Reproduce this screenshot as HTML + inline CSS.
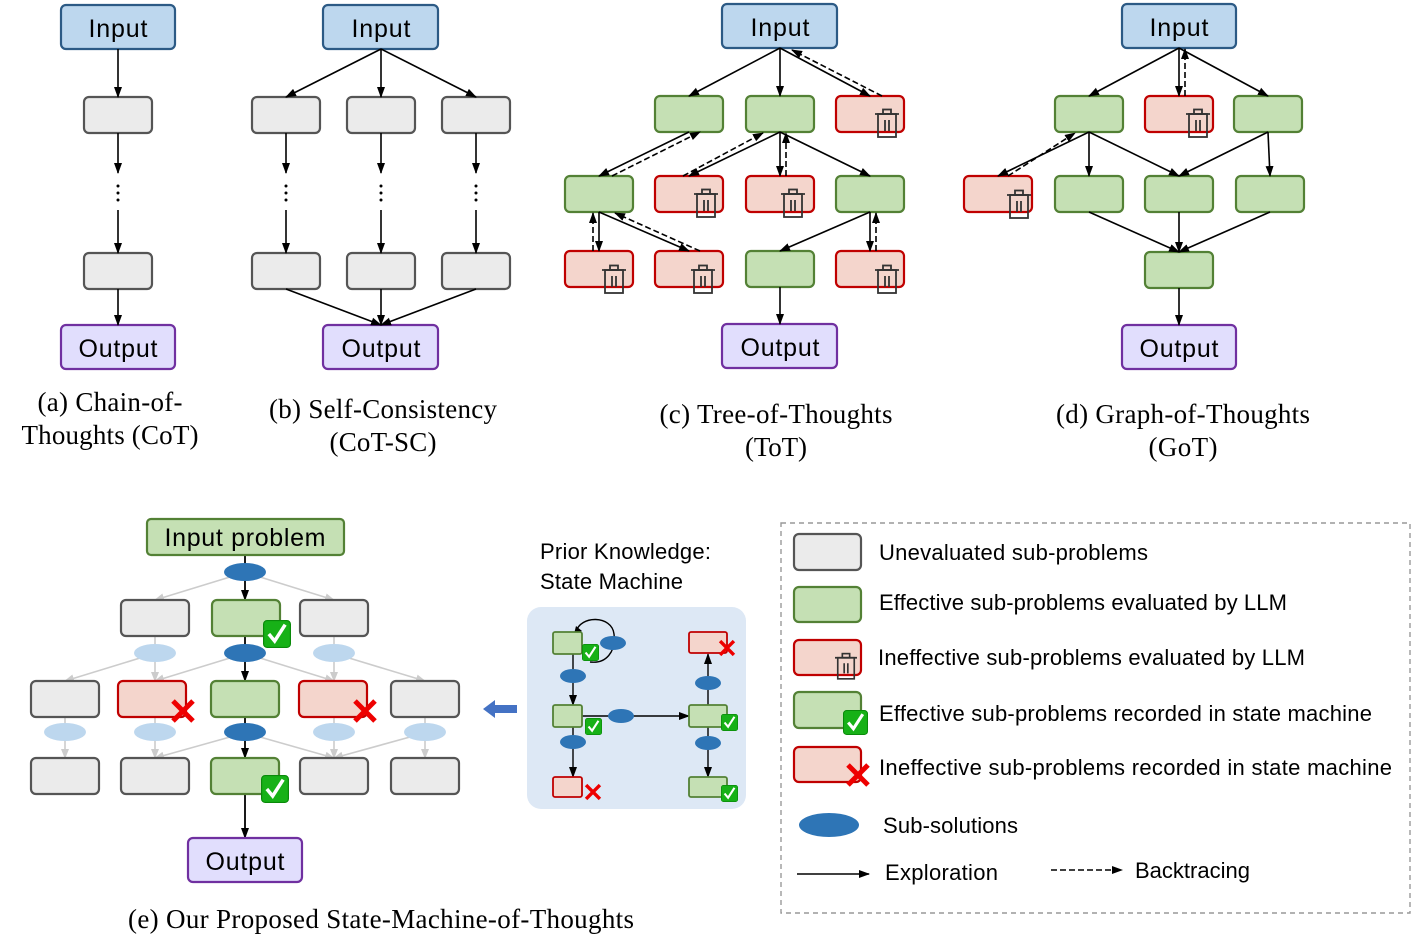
<!DOCTYPE html>
<html><head><meta charset="utf-8"><style>
html,body{margin:0;padding:0;background:#fff;}
svg{display:block;}
.sans{font-family:"Liberation Sans","DejaVu Sans",sans-serif;}
.serif{font-family:"Liberation Serif",serif;}
</style></head><body>
<svg width="1412" height="952" viewBox="0 0 1412 952" xmlns="http://www.w3.org/2000/svg">
<defs>
<marker id="ah" markerWidth="11" markerHeight="10" refX="10" refY="5" orient="auto" markerUnits="userSpaceOnUse"><path d="M0,1 L11,5 L0,9 z" fill="#000"/></marker>
<marker id="ag" markerWidth="10" markerHeight="10" refX="9" refY="5" orient="auto" markerUnits="userSpaceOnUse"><path d="M0,1 L10,5 L0,9 z" fill="#ccc"/></marker>
<symbol id="trash" viewBox="0 0 24 30" width="24" height="30"><g fill="none" stroke="#333" stroke-width="1.8"><path d="M0,6 H24"/><rect x="8" y="1.5" width="8" height="4.5"/><rect x="3" y="6" width="18" height="23"/><path d="M10,12 V23 M14,12 V23"/></g></symbol>
<symbol id="chk" viewBox="0 0 24 24" width="24" height="24"><rect x="0.5" y="0.5" width="23" height="23" rx="3" fill="#17b117" stroke="#0a8a0a"/><path d="M5,12 L10,18 L19,4" fill="none" stroke="#fff" stroke-width="3"/></symbol>
<symbol id="xx" viewBox="0 0 26 26" width="26" height="26"><path d="M3,3 L23,23 M23,3 L3,23" stroke="#e00" stroke-width="5"/></symbol>
</defs>
<g stroke-width="2.2">
<rect x="61" y="5" width="114" height="44" rx="5" fill="#bdd7ee" stroke="#2c5a85"/>
<rect x="84" y="97" width="68" height="36" rx="5" fill="#ebebeb" stroke="#555"/>
<rect x="84" y="253" width="68" height="36" rx="5" fill="#ebebeb" stroke="#555"/>
<rect x="61" y="325" width="114" height="44" rx="5" fill="#e1defd" stroke="#7030a0"/>
<rect x="323" y="5" width="115" height="44" rx="5" fill="#bdd7ee" stroke="#2c5a85"/>
<rect x="252" y="97" width="68" height="36" rx="5" fill="#ebebeb" stroke="#555"/>
<rect x="347" y="97" width="68" height="36" rx="5" fill="#ebebeb" stroke="#555"/>
<rect x="442" y="97" width="68" height="36" rx="5" fill="#ebebeb" stroke="#555"/>
<rect x="252" y="253" width="68" height="36" rx="5" fill="#ebebeb" stroke="#555"/>
<rect x="347" y="253" width="68" height="36" rx="5" fill="#ebebeb" stroke="#555"/>
<rect x="442" y="253" width="68" height="36" rx="5" fill="#ebebeb" stroke="#555"/>
<rect x="323" y="325" width="115" height="44" rx="5" fill="#e1defd" stroke="#7030a0"/>
<rect x="722" y="4" width="115" height="44" rx="5" fill="#bdd7ee" stroke="#2c5a85"/>
<rect x="655" y="96" width="68" height="36" rx="5" fill="#c5e0b4" stroke="#538135"/>
<rect x="746" y="96" width="68" height="36" rx="5" fill="#c5e0b4" stroke="#538135"/>
<rect x="836" y="96" width="68" height="36" rx="5" fill="#f4d5cc" stroke="#c00000"/>
<rect x="565" y="176" width="68" height="36" rx="5" fill="#c5e0b4" stroke="#538135"/>
<rect x="655" y="176" width="68" height="36" rx="5" fill="#f4d5cc" stroke="#c00000"/>
<rect x="746" y="176" width="68" height="36" rx="5" fill="#f4d5cc" stroke="#c00000"/>
<rect x="836" y="176" width="68" height="36" rx="5" fill="#c5e0b4" stroke="#538135"/>
<rect x="565" y="251" width="68" height="36" rx="5" fill="#f4d5cc" stroke="#c00000"/>
<rect x="655" y="251" width="68" height="36" rx="5" fill="#f4d5cc" stroke="#c00000"/>
<rect x="746" y="251" width="68" height="36" rx="5" fill="#c5e0b4" stroke="#538135"/>
<rect x="836" y="251" width="68" height="36" rx="5" fill="#f4d5cc" stroke="#c00000"/>
<rect x="722" y="324" width="115" height="44" rx="5" fill="#e1defd" stroke="#7030a0"/>
<rect x="1122" y="4" width="114" height="44" rx="5" fill="#bdd7ee" stroke="#2c5a85"/>
<rect x="1055" y="96" width="68" height="36" rx="5" fill="#c5e0b4" stroke="#538135"/>
<rect x="1145" y="96" width="68" height="36" rx="5" fill="#f4d5cc" stroke="#c00000"/>
<rect x="1234" y="96" width="68" height="36" rx="5" fill="#c5e0b4" stroke="#538135"/>
<rect x="964" y="176" width="68" height="36" rx="5" fill="#f4d5cc" stroke="#c00000"/>
<rect x="1055" y="176" width="68" height="36" rx="5" fill="#c5e0b4" stroke="#538135"/>
<rect x="1145" y="176" width="68" height="36" rx="5" fill="#c5e0b4" stroke="#538135"/>
<rect x="1236" y="176" width="68" height="36" rx="5" fill="#c5e0b4" stroke="#538135"/>
<rect x="1145" y="252" width="68" height="36" rx="5" fill="#c5e0b4" stroke="#538135"/>
<rect x="1122" y="325" width="114" height="44" rx="5" fill="#e1defd" stroke="#7030a0"/>
</g>
<use href="#trash" x="875" y="108"/>
<use href="#trash" x="694" y="188"/>
<use href="#trash" x="781" y="188"/>
<use href="#trash" x="602" y="264"/>
<use href="#trash" x="691" y="264"/>
<use href="#trash" x="875" y="264"/>
<use href="#trash" x="1186" y="108"/>
<use href="#trash" x="1007" y="189"/>
<g stroke="#000" stroke-width="1.6" fill="none" marker-end="url(#ah)">
<path d="M118,49 V97"/><path d="M118,133 V173"/><path d="M118,210 V253"/><path d="M118,289 V325"/>
<path d="M381,49 L286,97"/><path d="M381,49 V97"/><path d="M381,49 L476,97"/>
<path d="M286,133 V173"/><path d="M381,133 V173"/><path d="M476,133 V173"/>
<path d="M286,210 V253"/><path d="M381,210 V253"/><path d="M476,210 V253"/>
<path d="M286,289 L381,325"/><path d="M381,289 V325"/><path d="M476,289 L381,325"/>
<path d="M780,48 L689,96"/><path d="M780,48 V96"/><path d="M780,48 L870,96"/>
<path d="M689,132 L599,176"/><path d="M780,132 L689,176"/><path d="M780,132 V176"/><path d="M780,132 L870,176"/>
<path d="M599,212 V251"/><path d="M599,212 L689,251"/><path d="M870,212 L780,251"/><path d="M870,212 V251"/>
<path d="M780,287 V324"/>
<path d="M1179,48 L1089,96"/><path d="M1179,48 V96"/><path d="M1179,48 L1268,96"/>
<path d="M1089,132 L998,176"/><path d="M1089,132 V176"/><path d="M1089,132 L1179,176"/><path d="M1268,132 L1179,176"/><path d="M1268,132 L1270,176"/>
<path d="M1089,212 L1179,252"/><path d="M1179,212 V252"/><path d="M1270,212 L1179,252"/>
<path d="M1179,288 V325"/>
</g>
<g stroke="#000" stroke-width="1.6" fill="none" stroke-dasharray="6,3" marker-end="url(#ah)">
<path d="M882,96 L792,50"/>
<path d="M612,176 L700,132"/><path d="M683,176 L763,133"/><path d="M786,176 V133"/>
<path d="M593,251 V213"/><path d="M700,251 L615,213"/><path d="M876,251 V213"/>
<path d="M1185,96 V49"/><path d="M1008,176 L1075,133"/>
</g>
<g fill="#000">
<circle cx="118" cy="186" r="1.5"/><circle cx="118" cy="193" r="1.5"/><circle cx="118" cy="200" r="1.5"/>
<circle cx="286" cy="186" r="1.5"/><circle cx="286" cy="193" r="1.5"/><circle cx="286" cy="200" r="1.5"/>
<circle cx="381" cy="186" r="1.5"/><circle cx="381" cy="193" r="1.5"/><circle cx="381" cy="200" r="1.5"/>
<circle cx="476" cy="186" r="1.5"/><circle cx="476" cy="193" r="1.5"/><circle cx="476" cy="200" r="1.5"/>
</g>
<g class="sans" font-size="25" text-anchor="middle" fill="#000">
<text x="118" y="37" textLength="59">Input</text><text x="118" y="357" textLength="79">Output</text>
<text x="381" y="37" textLength="59">Input</text><text x="381" y="357" textLength="79">Output</text>
<text x="780" y="36" textLength="59">Input</text><text x="780" y="356" textLength="79">Output</text>
<text x="1179" y="36" textLength="59">Input</text><text x="1179" y="357" textLength="79">Output</text>
</g>
<g class="serif" font-size="27" text-anchor="middle" fill="#000">
<text x="110" y="411" textLength="145">(a) Chain-of-</text><text x="110" y="444" textLength="177">Thoughts (CoT)</text>
<text x="383" y="418" textLength="228">(b) Self-Consistency</text><text x="383" y="451" textLength="107">(CoT-SC)</text>
<text x="776" y="423" textLength="233">(c) Tree-of-Thoughts</text><text x="776" y="456" textLength="62">(ToT)</text>
<text x="1183" y="423" textLength="254">(d) Graph-of-Thoughts</text><text x="1183" y="456" textLength="69">(GoT)</text>
<text x="381" y="928" textLength="506">(e) Our Proposed State-Machine-of-Thoughts</text>
</g>
<g stroke="#ccc" stroke-width="1.6" fill="none" marker-end="url(#ag)">
<path d="M230,577 L155,600"/><path d="M260,577 L334,600"/>
<path d="M140,658 L65,681"/><path d="M155,662 V681"/><path d="M230,658 L155,681"/><path d="M260,658 L334,681"/><path d="M349,658 L425,681"/><path d="M334,662 V681"/>
<path d="M65,741 V758"/><path d="M155,741 V758"/><path d="M230,737 L155,758"/><path d="M260,737 L334,758"/><path d="M334,741 V758"/><path d="M425,741 V758"/><path d="M410,737 L334,758"/>
</g>
<g stroke="#ccc" stroke-width="1.6"><path d="M155,636 V644"/><path d="M334,636 V644"/><path d="M65,717 V723"/><path d="M155,717 V723"/><path d="M334,717 V723"/><path d="M425,717 V723"/></g>
<g stroke="#000" stroke-width="1.8" fill="none" marker-end="url(#ah)">
<path d="M245,555 V600"/><path d="M245,636 V681"/><path d="M245,717 V758"/><path d="M245,794 V838"/>
</g>
<g stroke-width="2.2">
<rect x="147" y="519" width="197" height="36" rx="4" fill="#c5e0b4" stroke="#538135"/>
<rect x="121" y="600" width="68" height="36" rx="5" fill="#ebebeb" stroke="#555"/>
<rect x="212" y="600" width="68" height="36" rx="5" fill="#c5e0b4" stroke="#538135"/>
<rect x="300" y="600" width="68" height="36" rx="5" fill="#ebebeb" stroke="#555"/>
<rect x="31" y="681" width="68" height="36" rx="5" fill="#ebebeb" stroke="#555"/>
<rect x="118" y="681" width="68" height="36" rx="5" fill="#f4d5cc" stroke="#c00000"/>
<rect x="211" y="681" width="68" height="36" rx="5" fill="#c5e0b4" stroke="#538135"/>
<rect x="299" y="681" width="68" height="36" rx="5" fill="#f4d5cc" stroke="#c00000"/>
<rect x="391" y="681" width="68" height="36" rx="5" fill="#ebebeb" stroke="#555"/>
<rect x="31" y="758" width="68" height="36" rx="5" fill="#ebebeb" stroke="#555"/>
<rect x="121" y="758" width="68" height="36" rx="5" fill="#ebebeb" stroke="#555"/>
<rect x="211" y="758" width="68" height="36" rx="5" fill="#c5e0b4" stroke="#538135"/>
<rect x="300" y="758" width="68" height="36" rx="5" fill="#ebebeb" stroke="#555"/>
<rect x="391" y="758" width="68" height="36" rx="5" fill="#ebebeb" stroke="#555"/>
<rect x="188" y="838" width="114" height="44" rx="5" fill="#e1defd" stroke="#7030a0"/>
</g>
<g fill="#bdd7ee">
<ellipse cx="155" cy="653" rx="21" ry="9"/><ellipse cx="334" cy="653" rx="21" ry="9"/>
<ellipse cx="65" cy="732" rx="21" ry="9"/><ellipse cx="155" cy="732" rx="21" ry="9"/><ellipse cx="334" cy="732" rx="21" ry="9"/><ellipse cx="425" cy="732" rx="21" ry="9"/>
</g>
<g fill="#2e75b6">
<ellipse cx="245" cy="572" rx="21" ry="9"/><ellipse cx="245" cy="653" rx="21" ry="9"/><ellipse cx="245" cy="732" rx="21" ry="9"/>
</g>
<use href="#chk" x="263" y="620" width="28" height="28"/>
<use href="#chk" x="261" y="775" width="28" height="28"/>
<use href="#xx" x="170" y="698"/>
<use href="#xx" x="352" y="698"/>
<g class="sans" font-size="25" text-anchor="middle"><text x="245" y="546" textLength="161">Input problem</text><text x="245" y="870" textLength="79">Output</text></g>
<path d="M483,709 L495,700 V705 H517 V713 H495 V718 z" fill="#4472c4"/>
<g class="sans" font-size="22"><text x="540" y="559" textLength="171">Prior Knowledge:</text><text x="540" y="589" textLength="143">State Machine</text></g>
<rect x="527" y="607" width="219" height="202" rx="14" fill="#dde8f5"/>
<path d="M576,632 C580,615 612,615 614,634 C616,652 606,664 590,662" fill="none" stroke="#000" stroke-width="1.4"/>
<path d="M574,634 L576,626 L582,631 z" fill="#000"/>
<g stroke="#000" stroke-width="1.4" fill="none" marker-end="url(#ah)">
<path d="M573,654 V705"/><path d="M573,727 V777"/><path d="M582,716 H689"/><path d="M708,705 V654"/><path d="M708,727 V777"/>
</g>
<g stroke-width="1.8">
<rect x="553" y="632" width="29" height="22" rx="2" fill="#c5e0b4" stroke="#538135"/>
<rect x="553" y="705" width="29" height="22" rx="2" fill="#c5e0b4" stroke="#538135"/>
<rect x="553" y="777" width="29" height="20" rx="2" fill="#f4d5cc" stroke="#c00000"/>
<rect x="689" y="632" width="38" height="21" rx="2" fill="#f4d5cc" stroke="#c00000"/>
<rect x="689" y="705" width="38" height="22" rx="2" fill="#c5e0b4" stroke="#538135"/>
<rect x="689" y="777" width="38" height="20" rx="2" fill="#c5e0b4" stroke="#538135"/>
</g>
<g fill="#2e75b6">
<ellipse cx="613" cy="643" rx="13" ry="7"/><ellipse cx="573" cy="676" rx="13" ry="7"/><ellipse cx="621" cy="716" rx="13" ry="7"/><ellipse cx="573" cy="742" rx="13" ry="7"/><ellipse cx="708" cy="683" rx="13" ry="7"/><ellipse cx="708" cy="743" rx="13" ry="7"/>
</g>
<use href="#chk" x="582" y="644" width="17" height="17"/>
<use href="#chk" x="585" y="718" width="17" height="17"/>
<use href="#chk" x="721" y="714" width="17" height="17"/>
<use href="#chk" x="721" y="785" width="17" height="17"/>
<use href="#xx" x="718" y="639" width="18" height="18"/>
<use href="#xx" x="584" y="783" width="18" height="18"/>
<rect x="781" y="523" width="629" height="390" fill="none" stroke="#999" stroke-width="1.4" stroke-dasharray="5,4"/>
<g stroke-width="2.2">
<rect x="794" y="534" width="67" height="36" rx="5" fill="#ebebeb" stroke="#555"/>
<rect x="794" y="587" width="67" height="35" rx="5" fill="#c5e0b4" stroke="#538135"/>
<rect x="794" y="640" width="67" height="35" rx="5" fill="#f4d5cc" stroke="#c00000"/>
<rect x="794" y="692" width="67" height="36" rx="5" fill="#c5e0b4" stroke="#538135"/>
<rect x="794" y="747" width="67" height="35" rx="5" fill="#f4d5cc" stroke="#c00000"/>
</g>
<use href="#trash" x="835" y="652" width="22" height="28"/>
<use href="#chk" x="843" y="710" width="25" height="25"/>
<use href="#xx" x="845" y="762"/>
<ellipse cx="829" cy="825" rx="30" ry="12" fill="#2e75b6"/>
<path d="M797,874 H869" stroke="#000" stroke-width="1.6" marker-end="url(#ah)"/>
<path d="M1051,870 H1122" stroke="#000" stroke-width="1.6" stroke-dasharray="6,3" marker-end="url(#ah)"/>
<g class="sans" font-size="22" fill="#000">
<text x="879" y="560" textLength="269">Unevaluated sub-problems</text>
<text x="879" y="610" textLength="408">Effective sub-problems evaluated by LLM</text>
<text x="878" y="665" textLength="427">Ineffective sub-problems evaluated by LLM</text>
<text x="879" y="721" textLength="493">Effective sub-problems recorded in state machine</text>
<text x="879" y="775" textLength="513">Ineffective sub-problems recorded in state machine</text>
<text x="883" y="833" textLength="135">Sub-solutions</text>
<text x="885" y="880" textLength="113">Exploration</text>
<text x="1135" y="878" textLength="115">Backtracing</text>
</g>
</svg>
</body></html>
